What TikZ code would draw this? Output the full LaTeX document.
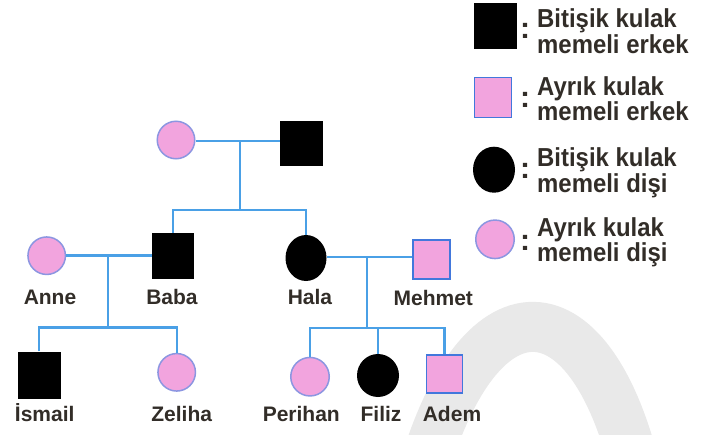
\documentclass[tikz,border=0pt]{standalone}
\usepackage{fontspec}
\setmainfont{Liberation Sans}
\newfontfamily\legfont{Liberation Sans}[FakeStretch=0.92]
\usetikzlibrary{shapes.geometric}
\definecolor{pinkf}{RGB}{242,164,222}
\definecolor{lineb}{RGB}{74,160,230}
\definecolor{sqb}{RGB}{66,120,220}
\definecolor{cib}{RGB}{140,150,225}
\definecolor{txt}{RGB}{50,45,40}
\definecolor{wm}{RGB}{233,233,233}
\begin{document}
\begin{tikzpicture}[x=1pt,y=-1pt,
  conn/.style={draw=lineb, line width=2.4pt},
  blacksq/.style={rectangle, fill=black, inner sep=0pt},
  pinksq/.style={rectangle, fill=pinkf, draw=sqb, line width=1.8pt, inner sep=0pt},
  blackci/.style={ellipse, fill=black, inner sep=0pt},
  pinkci/.style={circle, fill=pinkf, draw=cib, line width=1.5pt, inner sep=0pt},
  lbl/.style={text=txt, font=\fontsize{21}{25}\selectfont\bfseries, anchor=base, inner sep=0pt},
  leg/.style={text=txt, font=\legfont\fontsize{26}{30}\selectfont\bfseries, anchor=base west, inner sep=0pt},
  colon/.style={text=txt, font=\fontsize{30}{34}\selectfont\bfseries, anchor=base, inner sep=0pt}
]
\useasboundingbox (0,0) rectangle (707,434);
\fill[white] (0,0) rectangle (707,434);
% watermark
\begin{scope}
\clip (0,0) rectangle (707,434);
\draw[wm, line width=50pt] (418,490) .. controls (475,270) and (595,275) .. (640,490);
\end{scope}

% generation 1
\node[pinkci, minimum size=37.5pt] (gm) at (176,140) {};
\node[blacksq, minimum width=43pt, minimum height=45pt] (gf) at (301.5,143.5) {};
% generation 2
\node[pinkci, minimum size=37.5pt] (anne) at (46.7,255.7) {};
\node[blacksq, minimum width=42pt, minimum height=46pt] (baba) at (173,256) {};
\node[blackci, minimum width=41pt, minimum height=46pt] (hala) at (306,258) {};
\node[pinksq, minimum width=37pt, minimum height=39pt] (mehmet) at (431.5,259.5) {};
% generation 3
\node[blacksq, minimum width=43pt, minimum height=47pt] (ismail) at (39,375) {};
\node[pinkci, minimum size=37.5pt] (zeliha) at (176.7,372.3) {};
\node[pinkci, minimum size=38.5pt] (perihan) at (310,376.7) {};
\node[blackci, minimum width=42pt, minimum height=43pt] (filiz) at (378,375.5) {};
\node[pinksq, minimum width=36pt, minimum height=38pt] (adem) at (444.5,374) {};

% labels
\node[lbl] (lanne) at (50,304) {Anne};
\node[lbl] (lbaba) at (172,304) {Baba};
\node[lbl] (lhala) at (310,304) {Hala};
\node[lbl] (lmehmet) at (433.3,305) {Mehmet};
\node[lbl] (lismail) at (44.7,421) {İsmail};
\node[lbl] (lzeliha) at (181.7,421) {Zeliha};
\node[lbl] (lperihan) at (301.3,421.5) {Perihan};
\node[lbl] (lfiliz) at (381,421.5) {Filiz};
\node[lbl] (ladem) at (452,421.5) {Adem};

% connectors
\coordinate (m1) at (240,141);
\coordinate (j1) at (240,210);
\coordinate (m2) at (107.7,255.5);
\coordinate (j2) at (107.7,327.5);
\coordinate (m3) at (366.7,257);
\coordinate (j3) at (366.7,328);

\draw[conn] (gm.east |- m1) -- (gf.west |- m1);
\draw[conn] (m1) -- (j1);
\draw[conn] (baba.north) |- (j1) -| (hala.north);

\draw[conn] (anne.east |- m2) -- (baba.west |- m2);
\draw[conn] (m2) -- (j2);
\draw[conn] (ismail.north) |- (j2) -| (zeliha.north);

\draw[conn] (hala.east |- m3) -- (mehmet.west |- m3);
\draw[conn] (m3) -- (j3);
\draw[conn] (perihan.north) |- (j3) -| (adem.north);
\draw[conn] (filiz.north) -- (filiz.north |- j3);

% legend
\node[blacksq, minimum width=43pt, minimum height=46pt] (k1) at (495,26) {};
\node[colon] (c1) at (525,38) {:};
\node[leg] (t1a) at (537,27.7) {Bitişik kulak};
\node[leg] (t1b) at (537,53.3) {memeli erkek};

\node[pinksq, minimum width=37pt, minimum height=40pt] (k2) at (493,97.5) {};
\node[colon] (c2) at (525,107) {:};
\node[leg] (t2a) at (537,95) {Ayrık kulak};
\node[leg] (t2b) at (537,120) {memeli erkek};

\node[blackci, minimum width=42pt, minimum height=46pt] (k3) at (494,169.7) {};
\node[colon] (c3) at (525,178.7) {:};
\node[leg] (t3a) at (537,166.7) {Bitişik kulak};
\node[leg] (t3b) at (537,192.7) {memeli dişi};

\node[pinkci, minimum size=38.5pt] (k4) at (495,239.3) {};
\node[colon] (c4) at (525,250.3) {:};
\node[leg] (t4a) at (537,236.7) {Ayrık kulak};
\node[leg] (t4b) at (537,261.7) {memeli dişi};
\end{tikzpicture}
\end{document}
